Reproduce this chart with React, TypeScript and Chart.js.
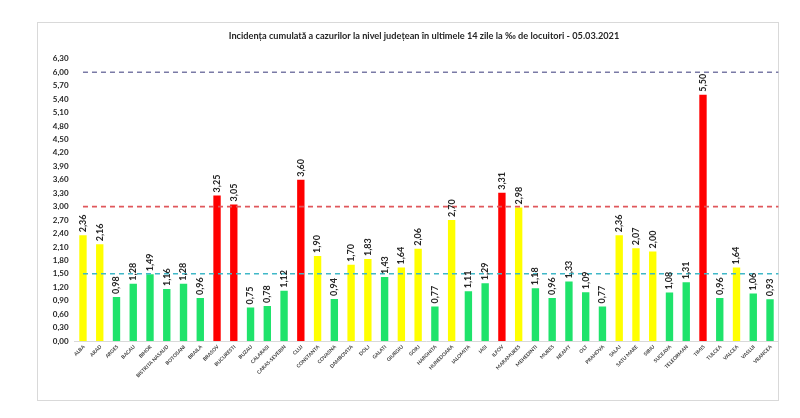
import React, { useEffect, useRef } from "react";
import { Chart, registerables } from "chart.js";

Chart.register(...registerables);

const TITLE = "Incidența cumulată a cazurilor la nivel județean în ultimele 14 zile la ‰ de locuitori - 05.03.2021";

const counties = [
  "ALBA", "ARAD", "ARGES", "BACAU", "BIHOR", "BISTRITA NASAUD", "BOTOSANI", "BRAILA",
  "BRASOV", "BUCURESTI", "BUZAU", "CALARASI", "CARAS-SEVERIN", "CLUJ", "CONSTANTA",
  "COVASNA", "DAMBOVITA", "DOLJ", "GALATI", "GIURGIU", "GORJ", "HARGHITA", "HUNEDOARA",
  "IALOMITA", "IASI", "ILFOV", "MARAMURES", "MEHEDINTI", "MURES", "NEAMT", "OLT",
  "PRAHOVA", "SALAJ", "SATU MARE", "SIBIU", "SUCEAVA", "TELEORMAN", "TIMIS", "TULCEA",
  "VALCEA", "VASLUI", "VRANCEA",
];

const incidence = [
  2.36, 2.16, 0.98, 1.28, 1.49, 1.16, 1.28, 0.96,
  3.25, 3.05, 0.75, 0.78, 1.12, 3.60, 1.90,
  0.94, 1.70, 1.83, 1.43, 1.64, 2.06, 0.77, 2.70,
  1.11, 1.29, 3.31, 2.98, 1.18, 0.96, 1.33, 1.09,
  0.77, 2.36, 2.07, 2.00, 1.08, 1.31, 5.50, 0.96,
  1.64, 1.06, 0.93,
];

const thresholds = [6.0, 3.0, 1.5];
const thresholdColors = ["#7a7aa6", "#e0575b", "#3fb8c8"];

const GREEN = "#1fe36b";
const YELLOW = "#ffff00";
const RED = "#ff0000";

const FONT = "Lato, 'Open Sans', sans-serif";
const fmt = (v: number) => v.toFixed(2).replace(".", ",");

export default function App() {
  const ref = useRef<HTMLCanvasElement | null>(null);

  useEffect(() => {
    if (!ref.current) return;

    const framePlugin = {
      id: "frame",
      beforeDraw(chart: any) {
        const ctx = chart.ctx;
        ctx.save();
        ctx.fillStyle = "#ffffff";
        ctx.fillRect(0, 0, chart.width, chart.height);
        ctx.strokeStyle = "#d9d9d9";
        ctx.lineWidth = 1;
        ctx.strokeRect(37.5, 22.5, 741, 378);
        ctx.fillStyle = "#262626";
        ctx.font = `bold 9.2px ${FONT}`;
        ctx.textAlign = "center";
        ctx.textBaseline = "middle";
        ctx.fillText(TITLE, 424, 36);
        ctx.restore();
      },
    };

    const overlayPlugin = {
      id: "overlay",
      afterDatasetsDraw(chart: any) {
        const ctx = chart.ctx;
        const x = chart.scales.x;
        const y = chart.scales.y;
        const area = chart.chartArea;
        ctx.save();
        // threshold dashed lines
        ctx.lineWidth = 1.6;
        ctx.setLineDash([5, 4]);
        thresholds.forEach((t, i) => {
          const py = y.getPixelForValue(t);
          ctx.strokeStyle = thresholdColors[i];
          ctx.beginPath();
          ctx.moveTo(x.getPixelForValue(0), py);
          ctx.lineTo(area.right, py);
          ctx.stroke();
        });
        ctx.setLineDash([]);
        // value labels
        const meta = chart.getDatasetMeta(0);
        ctx.fillStyle = "#262626";
        ctx.font = `bold 9px ${FONT}`;
        ctx.textAlign = "left";
        ctx.textBaseline = "middle";
        meta.data.forEach((bar: any, i: number) => {
          ctx.save();
          ctx.translate(bar.x, bar.y - 3);
          ctx.rotate(-Math.PI / 2);
          ctx.fillText(fmt(incidence[i]), 0, 0);
          ctx.restore();
        });
        // category labels, rotated 45°
        ctx.fillStyle = "#404040";
        ctx.font = `bold 5px ${FONT}`;
        ctx.textAlign = "right";
        ctx.textBaseline = "middle";
        counties.forEach((name, i) => {
          ctx.save();
          ctx.translate(x.getPixelForValue(i) + 1, area.bottom + 5);
          ctx.rotate(-Math.PI / 4);
          ctx.fillText(name, 0, 0);
          ctx.restore();
        });
        ctx.restore();
      },
    };

    const chart = new Chart(ref.current, {
      type: "bar",
      data: {
        labels: counties,
        datasets: [
          {
            data: incidence,
            backgroundColor: incidence.map((v) => (v > 3 ? RED : v >= 1.5 ? YELLOW : GREEN)),
            barPercentage: 0.44,
            categoryPercentage: 1,
            borderWidth: 0,
          },
        ],
      },
      options: {
        responsive: false,
        animation: false,
        devicePixelRatio: 1,
        layout: { padding: { left: 0, right: 21.6, top: 58.8, bottom: 0 } },
        plugins: {
          legend: { display: false },
          title: { display: false },
          tooltip: { enabled: false },
        },
        scales: {
          x: {
            grid: { display: false, drawTicks: false },
            border: { display: true, color: "#d9d9d9" },
            ticks: { display: false },
            afterFit(scale: any) {
              scale.height = 418 - 341;
            },
          },
          y: {
            min: 0,
            max: 6.3,
            grid: { display: false, drawTicks: false },
            border: { display: false },
            ticks: {
              stepSize: 0.3,
              padding: 6,
              color: "#262626",
              font: { size: 8, weight: "bold", family: FONT },
              callback: (v: any) => fmt(Number(v)),
            },
            afterFit(scale: any) {
              scale.width = 74.6;
            },
          },
        },
      },
      plugins: [framePlugin, overlayPlugin],
    });

    return () => chart.destroy();
  }, []);

  return (
    <div style={{ position: "absolute", left: 0, top: 0, width: 800, height: 418 }}>
      <canvas ref={ref} width={800} height={418} style={{ display: "block" }} />
    </div>
  );
}
